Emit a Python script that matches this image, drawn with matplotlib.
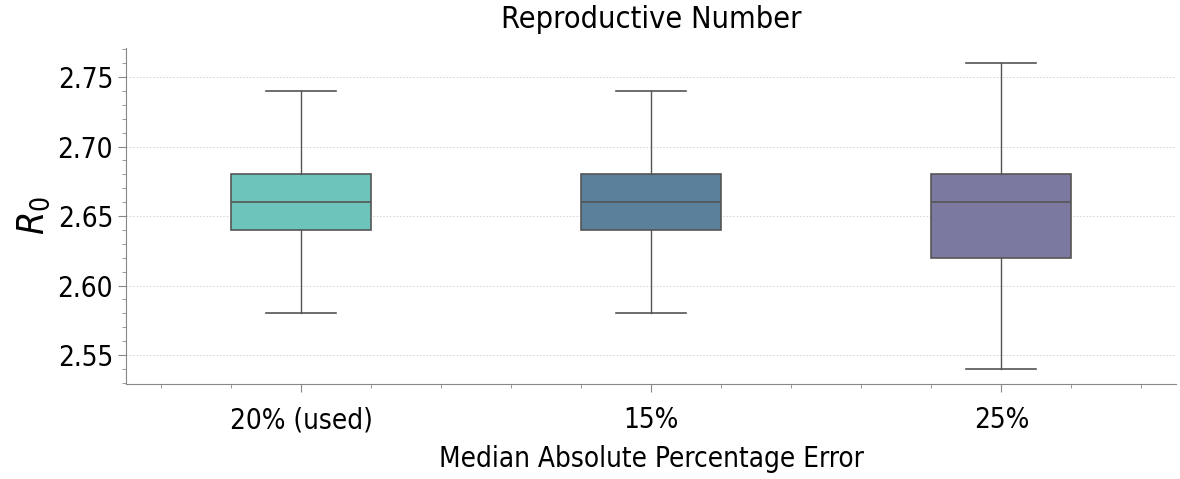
import matplotlib
matplotlib.use("Agg")
import matplotlib.pyplot as plt
from matplotlib.ticker import MultipleLocator, FormatStrFormatter

# box statistics per error level
labels = ["20% (used)", "15%", "25%"]
whislo = [2.58, 2.58, 2.54]
q1 = [2.64, 2.64, 2.62]
med = [2.66, 2.66, 2.66]
q3 = [2.68, 2.68, 2.68]
whishi = [2.74, 2.74, 2.76]
colors = ["#6dc4bb", "#5a809c", "#7b79a0"]

plt.rcParams["font.family"] = ["DejaVu Sans"]
plt.rcParams["font.stretch"] = "condensed"

fig, ax = plt.subplots(figsize=(11.8, 4.79), dpi=100)

stats = []
for i in range(len(labels)):
    stats.append(dict(label=labels[i], whislo=whislo[i], q1=q1[i], med=med[i],
                      q3=q3[i], whishi=whishi[i], fliers=[]))

edge = "#555555"
bp = ax.bxp(stats, positions=range(len(labels)), widths=0.4, patch_artist=True,
            showfliers=False,
            boxprops=dict(edgecolor=edge, linewidth=1.2),
            medianprops=dict(color=edge, linewidth=1.2),
            whiskerprops=dict(color=edge, linewidth=1.0),
            capprops=dict(color=edge, linewidth=1.2),
            capwidths=0.2)
for patch, c in zip(bp["boxes"], colors):
    patch.set_facecolor(c)

ax.set_xlim(-0.5, 2.5)
ax.set_ylim(2.529, 2.771)
ax.yaxis.set_major_locator(MultipleLocator(0.05))
ax.yaxis.set_minor_locator(MultipleLocator(0.01))
ax.xaxis.set_minor_locator(MultipleLocator(0.2))
ax.yaxis.set_major_formatter(FormatStrFormatter("%.2f"))
ax.set_xticks(range(len(labels)))
ax.set_xticklabels(labels)

ax.grid(axis="y", which="major", linestyle=(0, (2, 2)), linewidth=0.6, color="#d0d0d0")
ax.set_axisbelow(True)
for s in ["top", "right"]:
    ax.spines[s].set_visible(False)
for s in ["left", "bottom"]:
    ax.spines[s].set_color("#888888")
ax.tick_params(which="both", colors="#888888", labelcolor="black", labelsize=20)
ax.tick_params(which="major", length=6)
ax.tick_params(which="minor", length=3)
ax.tick_params(axis="x", pad=10)

ax.set_title("Reproductive Number", fontsize=22, pad=14)
ax.set_xlabel("Median Absolute Percentage Error", fontsize=20, labelpad=8)
ax.set_ylabel("$R_0$", fontsize=27, labelpad=4)

fig.subplots_adjust(left=0.107, right=0.997, bottom=0.198, top=0.9)
fig.savefig("out.png", dpi=100)
